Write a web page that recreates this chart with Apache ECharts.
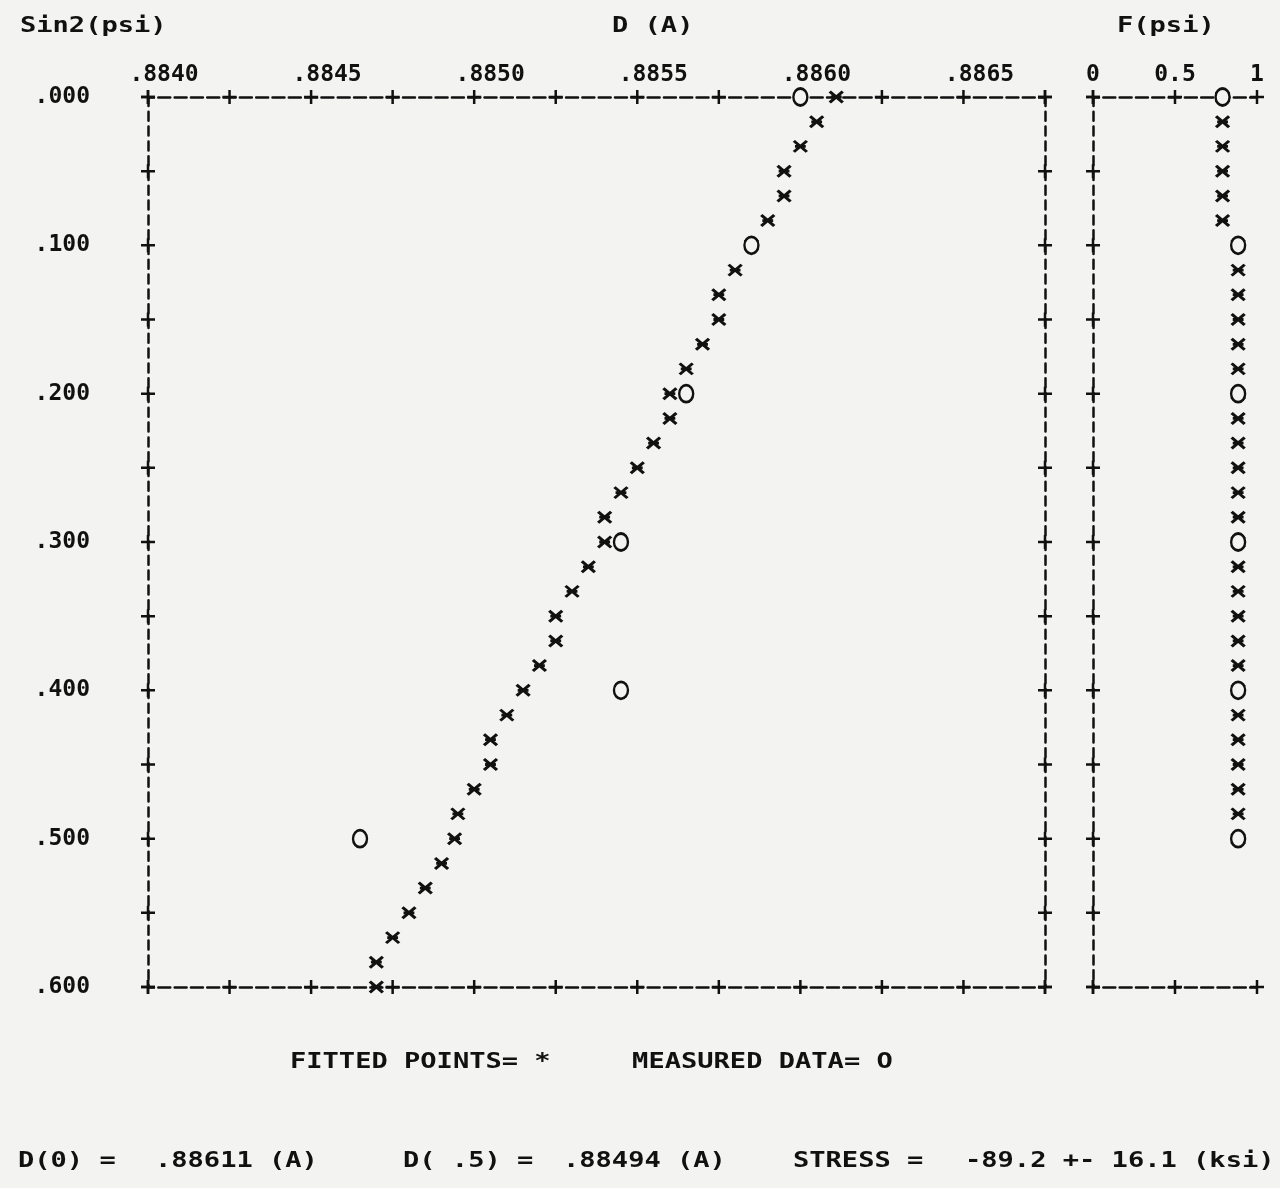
<!DOCTYPE html>
<html>
<head>
<meta charset="utf-8">
<script src="https://cdn.jsdelivr.net/npm/echarts@6/dist/echarts.min.js"></script>
<style>
  html, body { margin: 0; padding: 0; background: #f3f3f2; }
  #chart { width: 1280px; height: 1188px; }
</style>
</head>
<body>
<div id="chart"></div>
<script>
// Print rows of the sin2(psi) scan, one every 1/60
const sin2psi = [0.0000, 0.0167, 0.0333, 0.0500, 0.0667, 0.0833, 0.1000, 0.1167, 0.1333, 0.1500,
                 0.1667, 0.1833, 0.2000, 0.2167, 0.2333, 0.2500, 0.2667, 0.2833, 0.3000, 0.3167,
                 0.3333, 0.3500, 0.3667, 0.3833, 0.4000, 0.4167, 0.4333, 0.4500, 0.4667, 0.4833,
                 0.5000, 0.5167, 0.5333, 0.5500, 0.5667, 0.5833, 0.6000];

// Fitted d-spacing (A) on every row
const fittedD = [0.88611, 0.88605, 0.88600, 0.88595, 0.88595, 0.88590, 0.88585, 0.88580, 0.88575, 0.88575,
                 0.88570, 0.88565, 0.88560, 0.88560, 0.88555, 0.88550, 0.88545, 0.88540, 0.88540, 0.88535,
                 0.88530, 0.88525, 0.88525, 0.88520, 0.88515, 0.88510, 0.88505, 0.88505, 0.88500, 0.88495,
                 0.88494, 0.88490, 0.88485, 0.88480, 0.88475, 0.88470, 0.88470];

// Measured d-spacing (A)
const measuredSin2 = [0.0, 0.1, 0.2, 0.3, 0.4, 0.5];
const measuredD    = [0.88600, 0.88585, 0.88565, 0.88545, 0.88545, 0.88465];

// F(psi) weights: fitted rows 0..30, measured at the data rows
const fittedF = [0.79, 0.79, 0.79, 0.79, 0.79, 0.79, 0.885, 0.885, 0.885, 0.885,
                 0.885, 0.885, 0.885, 0.885, 0.885, 0.885, 0.885, 0.885, 0.885, 0.885,
                 0.885, 0.885, 0.885, 0.885, 0.885, 0.885, 0.885, 0.885, 0.885, 0.885,
                 0.885];
const measuredF = [0.79, 0.885, 0.885, 0.885, 0.885, 0.885];

// Tick positions
const dTicks   = [0.8840, 0.88425, 0.8845, 0.88475, 0.8850, 0.88525, 0.8855, 0.88575, 0.8860, 0.88625, 0.8865, 0.88675];
const sinTicks = [0.00, 0.05, 0.10, 0.15, 0.20, 0.25, 0.30, 0.35, 0.40, 0.45, 0.50, 0.55, 0.60];
const fTicks   = [0, 0.5, 1];

// Captions
const titleY = 'Sin2(psi)';
const titleD = 'D (A)';
const titleF = 'F(psi)';
const legendText = 'FITTED POINTS= *     MEASURED DATA= O';
const resultParts = ['D(0) =', '.88611 (A)', 'D( .5) =', '.88494 (A)', 'STRESS =', '-89.2 +- 16.1 (ksi)'];

const INK = '#111111';
const PAPER = '#f3f3f2';
const MONO = '"DejaVu Sans Mono", "Liberation Mono", monospace';
const FONT_SIZE = 22;
const PITCH_SCALE = 1.23;   // widen the mono face to the printer pitch

const STAR = 'path://M0 0L12 10M12 0L0 10M1 5L11 5';
const RING = 'path://M6 0A6 8 0 1 1 6 16A6 8 0 1 1 6 0Z';
const PLUS = 'path://M0 7L14 7M7 0L7 14';

const dMin = dTicks[0], dMax = dTicks[dTicks.length - 1];
const sMin = sinTicks[0], sMax = sinTicks[sinTicks.length - 1];
const fMin = fTicks[0], fMax = fTicks[fTicks.length - 1];

// "+" marks along the frame edges
const mainPlus = [];
dTicks.forEach(d => { mainPlus.push([d, sMin]); mainPlus.push([d, sMax]); });
sinTicks.forEach(s => { mainPlus.push([dMin, s]); mainPlus.push([dMax, s]); });
const sidePlus = [];
fTicks.forEach(f => { sidePlus.push([f, sMin]); sidePlus.push([f, sMax]); });
sinTicks.forEach(s => { sidePlus.push([fMin, s]); });

const hLine = { color: INK, width: 2.5, type: [12, 4.31], dashOffset: 6 };
const vLine = { color: INK, width: 2.5, type: [9, 5.8] };

function frameAxis(extra) {
  return Object.assign({
    type: 'value',
    axisTick: { show: false },
    splitLine: { show: false },
    axisLabel: { show: false },
    axisPointer: { show: false }
  }, extra);
}

function printText(str, x, y) {
  return {
    type: 'text', x: x, y: y, scaleX: PITCH_SCALE, scaleY: 1, silent: true,
    style: {
      text: str, fill: INK, fontFamily: MONO, fontSize: FONT_SIZE, fontWeight: 'bold',
      align: 'left', verticalAlign: 'middle',
      textAlign: 'left', textVerticalAlign: 'middle'
    }
  };
}

const labelStyle = { color: INK, fontFamily: MONO, fontSize: 23, fontWeight: 'bold' };
const markStyle = { opacity: 1, borderColor: INK };

const resultX = [18, 155, 403, 563, 793, 965];

const chart = echarts.init(document.getElementById('chart'), null, { renderer: 'canvas' });
chart.setOption({
  backgroundColor: PAPER,
  animation: false,
  grid: [
    { left: 148, top: 97, width: 897, height: 890, show: false },
    { left: 1093, top: 97, width: 164, height: 890, show: false }
  ],
  xAxis: [
    frameAxis({
      gridIndex: 0, position: 'top', min: dMin, max: dMax, interval: 0.00025,
      axisLine: { show: true, onZero: false, lineStyle: hLine },
      axisLabel: Object.assign({
        show: true, margin: 10, padding: [0, 0, 0, 32],
        formatter: v => {
          const k = Math.round(v * 2000);
          return Math.abs(k - v * 2000) < 1e-6 ? v.toFixed(4).slice(1) : '';
        }
      }, labelStyle)
    }),
    frameAxis({ gridIndex: 0, position: 'bottom', min: dMin, max: dMax, interval: 0.00025,
                axisLine: { show: true, onZero: false, lineStyle: hLine } }),
    frameAxis({
      gridIndex: 1, position: 'top', min: fMin, max: fMax, interval: 0.5,
      axisLine: { show: true, onZero: false, lineStyle: hLine },
      axisLabel: Object.assign({ show: true, margin: 10, formatter: v => String(v) }, labelStyle)
    }),
    frameAxis({ gridIndex: 1, position: 'bottom', min: fMin, max: fMax, interval: 0.5,
                axisLine: { show: true, onZero: false, lineStyle: hLine } })
  ],
  yAxis: [
    frameAxis({
      gridIndex: 0, position: 'left', inverse: true, min: sMin, max: sMax, interval: 0.05,
      axisLine: { show: true, onZero: false, lineStyle: vLine },
      axisLabel: Object.assign({
        show: true, margin: 58,
        formatter: v => {
          const k = Math.round(v * 10);
          return Math.abs(k - v * 10) < 1e-6 ? v.toFixed(3).slice(1) : '';
        }
      }, labelStyle)
    }),
    frameAxis({ gridIndex: 0, position: 'right', inverse: true, min: sMin, max: sMax, interval: 0.05,
                axisLine: { show: true, onZero: false, lineStyle: vLine } }),
    frameAxis({ gridIndex: 1, position: 'left', inverse: true, min: sMin, max: sMax, interval: 0.05,
                axisLine: { show: true, onZero: false, lineStyle: vLine } })
  ],
  series: [
    {
      name: 'frame-main', type: 'scatter', xAxisIndex: 0, yAxisIndex: 0, silent: true, clip: false,
      data: mainPlus, symbol: PLUS, symbolSize: [14, 14], z: 3,
      itemStyle: Object.assign({ color: 'none', borderWidth: 2.5 }, markStyle)
    },
    {
      name: 'frame-side', type: 'scatter', xAxisIndex: 2, yAxisIndex: 2, silent: true, clip: false,
      data: sidePlus, symbol: PLUS, symbolSize: [14, 14], z: 3,
      itemStyle: Object.assign({ color: 'none', borderWidth: 2.5 }, markStyle)
    },
    {
      name: 'FITTED POINTS', type: 'scatter', xAxisIndex: 0, yAxisIndex: 0, clip: false,
      data: fittedD.map((d, i) => [d, sin2psi[i]]),
      symbol: STAR, symbolSize: [13, 11], z: 4,
      itemStyle: Object.assign({ color: INK, borderWidth: 3 }, markStyle)
    },
    {
      name: 'MEASURED DATA', type: 'scatter', xAxisIndex: 0, yAxisIndex: 0, clip: false,
      data: measuredD.map((d, i) => [d, measuredSin2[i]]),
      symbol: RING, symbolSize: [14, 17], z: 5,
      itemStyle: Object.assign({ color: PAPER, borderWidth: 2.6 }, markStyle)
    },
    {
      name: 'F fitted', type: 'scatter', xAxisIndex: 2, yAxisIndex: 2, clip: false,
      data: fittedF.map((f, i) => [f, sin2psi[i]]),
      symbol: STAR, symbolSize: [13, 11], z: 4,
      itemStyle: Object.assign({ color: INK, borderWidth: 3 }, markStyle)
    },
    {
      name: 'F measured', type: 'scatter', xAxisIndex: 2, yAxisIndex: 2, clip: false,
      data: measuredF.map((f, i) => [f, measuredSin2[i]]),
      symbol: RING, symbolSize: [14, 17], z: 5,
      itemStyle: Object.assign({ color: PAPER, borderWidth: 2.6 }, markStyle)
    }
  ],
  graphic: [
    printText(titleY, 20, 26),
    printText(titleD, 612, 26),
    printText(titleF, 1117, 26),
    printText(legendText, 290, 1062)
  ].concat(resultParts.map((t, i) => printText(t, resultX[i], 1161)))
});
</script>
</body>
</html>
